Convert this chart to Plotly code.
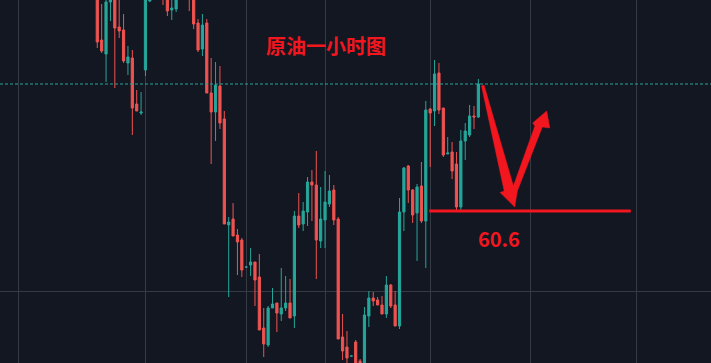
import plotly.graph_objects as go

# Hourly crude oil candles (price in USD), one entry per bar
bar_index = list(range(88))

open_ = [62.81, 62.31, 62.17, 62.69, 62.86, 62.44, 62.41, 62.08, 62.13, 61.67,
         61.58, 62.01, 62.70, 62.83, 63.01, 62.96, 62.86, 62.61, 62.62, 62.79,
         62.96, 62.86, 62.76, 62.48, 62.22, 62.48, 61.78, 61.59, 61.85, 61.52,
         60.46, 60.52, 60.36, 60.31, 60.04, 60.06, 60.09, 59.94, 59.43, 59.26,
         59.63, 59.68, 59.57, 59.63, 59.68, 59.55, 60.55, 60.47, 60.59, 60.89,
         60.86, 60.30, 60.51, 60.67, 60.81, 60.52, 59.34, 59.24, 59.15, 59.29,
         59.10, 58.96, 59.55, 59.73, 59.71, 59.66, 59.57, 59.86, 59.66, 59.45,
         60.59, 61.05, 60.81, 60.58, 60.85, 60.50, 61.62, 61.60, 61.98, 61.63,
         61.17, 61.19, 61.07, 60.64, 61.30, 61.36, 61.55, 61.54]

high = [62.91, 62.67, 62.74, 62.91, 62.96, 62.76, 62.57, 62.25, 62.21, 61.81,
        61.79, 62.83, 62.89, 63.11, 63.16, 63.06, 62.93, 62.76, 62.83, 63.06,
        63.03, 62.93, 62.83, 62.52, 62.57, 62.52, 62.13, 62.09, 62.05, 61.60,
        60.54, 60.68, 60.42, 60.33, 60.04, 60.23, 60.09, 60.17, 59.63, 59.65,
        59.83, 59.68, 60.03, 59.95, 59.92, 60.60, 60.78, 60.69, 60.94, 61.01,
        61.20, 60.84, 61.00, 60.96, 60.86, 60.54, 59.57, 59.40, 59.15, 59.31,
        59.12, 59.64, 59.80, 59.79, 59.74, 59.75, 59.95, 59.87, 59.80, 60.73,
        61.04, 61.06, 60.82, 60.87, 61.09, 61.70, 61.63, 62.11, 62.08, 61.63,
        61.34, 61.29, 61.19, 61.41, 61.48, 61.66, 61.65, 61.92]

low = [62.23, 62.18, 61.89, 62.50, 61.83, 62.33, 62.08, 61.96, 61.36, 61.60,
       61.56, 61.95, 62.69, 62.74, 62.83, 62.66, 62.55, 62.51, 62.59, 62.73,
       62.74, 62.60, 62.42, 62.19, 62.15, 61.78, 61.07, 61.30, 61.42, 60.47,
       59.74, 60.35, 59.96, 59.94, 60.04, 59.95, 59.65, 59.41, 59.14, 59.24,
       59.63, 59.39, 59.50, 59.60, 59.53, 59.43, 60.43, 60.40, 60.45, 60.50,
       59.92, 60.23, 60.23, 60.64, 60.46, 59.32, 59.11, 59.05, 59.15, 58.93,
       58.99, 58.91, 59.44, 59.65, 59.66, 59.57, 59.53, 59.63, 59.45, 59.42,
       60.40, 60.68, 60.48, 60.10, 60.48, 60.03, 61.04, 61.45, 61.57, 61.14,
       61.17, 60.92, 60.61, 60.61, 61.11, 61.34, 61.42, 61.53]

close = [62.29, 62.20, 62.69, 62.83, 62.43, 62.40, 62.10, 62.14, 61.63, 61.60,
         61.59, 62.76, 62.81, 63.01, 62.91, 62.73, 62.60, 62.63, 62.77, 62.96,
         62.81, 62.73, 62.47, 62.21, 62.46, 61.78, 61.59, 61.86, 61.48, 60.47,
         60.49, 60.35, 60.29, 60.01, 60.04, 60.09, 59.91, 59.41, 59.27, 59.63,
         59.67, 59.58, 59.63, 59.68, 59.53, 60.55, 60.46, 60.60, 60.89, 60.86,
         60.31, 60.52, 60.69, 60.80, 60.51, 59.32, 59.20, 59.13, 59.15, 58.99,
         59.03, 59.56, 59.73, 59.70, 59.66, 59.57, 59.86, 59.65, 59.45, 60.59,
         61.03, 60.81, 60.56, 60.84, 60.50, 61.61, 61.58, 61.97, 61.61, 61.16,
         61.18, 61.00, 60.64, 61.30, 61.40, 61.55, 61.54, 61.87]

# Session-boundary bars where the vertical grid is drawn
session_ticks = [-18, 11, 34, 52, 76, 99, 123]
price_grid = [59.80]

support_level = 60.6
support_from, support_to = 75.8, 121.8
title_text = "原油一小时图"

BG = "#131722"
GRID = "#363a45"
UP = "#26a69a"
DOWN = "#ef5350"
MARK = "#f2161e"

fig = go.Figure()
fig.add_trace(go.Candlestick(
    x=bar_index, open=open_, high=high, low=low, close=close,
    increasing=dict(line=dict(color=UP, width=1), fillcolor=UP),
    decreasing=dict(line=dict(color=DOWN, width=1), fillcolor=DOWN),
    whiskerwidth=0, hoverinfo="skip", showlegend=False,
))

last_close = close[-1]
last_bar = bar_index[-1]

# Projected move: drop from the last bar to support, then bounce (offsets in bars / USD)
def pt(dx, dy, x0=last_bar, y0=support_level):
    return f"{x0 + dx:.3f},{y0 + dy:.4f}"

arrow_pts = [
    pt(0.72, 1.25), pt(1.29, 1.26),        # top of the down stroke
    pt(8.0, 0.25),                          # inner corner of the V
    pt(12.9, 0.85), pt(12.4, 0.88),         # up stroke, left side + barb
    pt(15.6, 1.0),                          # arrow tip
    pt(16.3, 0.83), pt(14.6, 0.84),         # right barb back to the stroke
    pt(8.9, 0.20),                          # lower right of the up stroke
    pt(8.3, 0.04),                          # tip of the down arrow
    pt(4.95, 0.185), pt(5.9, 0.20),         # left barb of the down arrow
]
arrow_path = "M " + " L ".join(arrow_pts) + " Z"

fig.update_layout(
    width=711, height=363,
    margin=dict(l=0, r=0, t=0, b=0),
    paper_bgcolor=BG, plot_bgcolor=BG,
    boxgap=0.5, boxgroupgap=0,
    showlegend=False,
    xaxis=dict(
        range=[-22.21, 140.11], rangeslider=dict(visible=False),
        tickvals=session_ticks, showticklabels=False, ticks="",
        showgrid=True, gridcolor=GRID, gridwidth=1, zeroline=False,
        fixedrange=True,
    ),
    yaxis=dict(
        range=[59.08, 62.71], tickvals=price_grid, showticklabels=False,
        ticks="", showgrid=True, gridcolor=GRID, gridwidth=1, zeroline=False,
        fixedrange=True,
    ),
    shapes=[
        dict(type="line", xref="paper", x0=0, x1=1, yref="y",
             y0=last_close, y1=last_close,
             line=dict(color=UP, width=1, dash="3px,2px")),
        dict(type="line", xref="x", yref="y", x0=support_from, x1=support_to,
             y0=support_level, y1=support_level,
             line=dict(color=MARK, width=3)),
        dict(type="path", xref="x", yref="y", path=arrow_path,
             fillcolor=MARK, line=dict(color=MARK, width=0.5)),
    ],
    annotations=[
        dict(text=f"<b>{support_level}</b>", x=91.8, y=60.325,
             xref="x", yref="y", showarrow=False,
             font=dict(family="Noto Sans CJK SC, Noto Sans", size=20, color=MARK)),
        dict(text=f"<b>{title_text}</b>", x=0.459, y=0.919,
             xref="paper", yref="paper", showarrow=False,
             font=dict(family="Noto Sans CJK SC", size=20, color=MARK)),
    ],
)

fig.write_html("out.html", config=dict(displayModeBar=False))
